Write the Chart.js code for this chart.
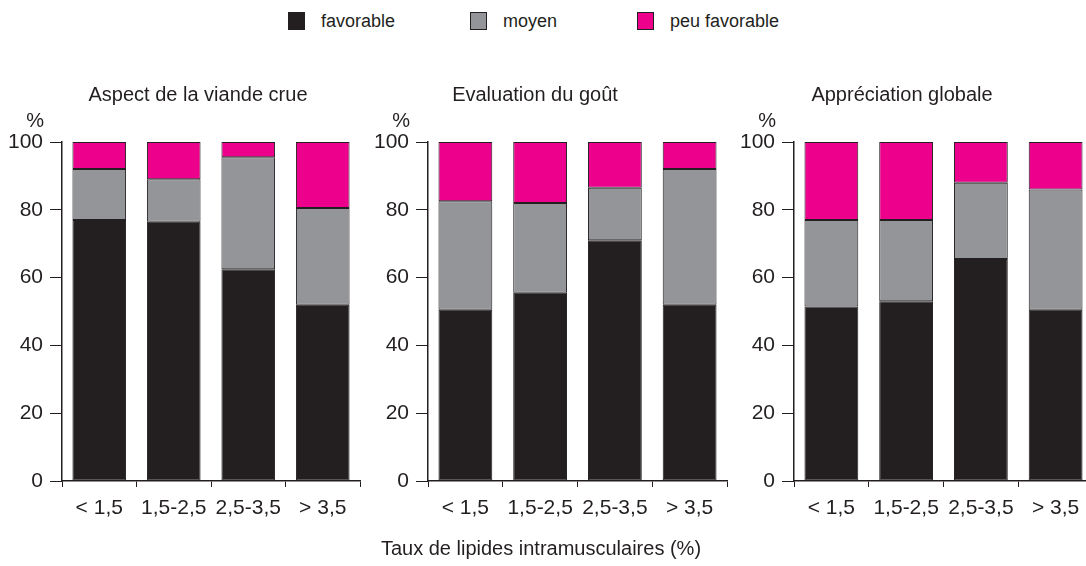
<!DOCTYPE html>
<html>
<head>
<meta charset="utf-8">
<script src="https://cdn.jsdelivr.net/npm/chart.js@4"></script>
<style>
  html, body { margin: 0; padding: 0; background: #fff; }
  body { width: 1086px; height: 566px; overflow: hidden; position: relative;
         font-family: "Liberation Sans", Arial, sans-serif; color: #231f20; }
  canvas { position: absolute; top: 0; }
  .leg { position: absolute; top: 12px; font-size: 18px; line-height: 19px; }
  .leg span { position: absolute; top: 0; width: 17px; height: 18px; border: 1px solid #231f20; box-sizing: border-box; }
  .leg b { font-weight: normal; position: absolute; top: 0; white-space: nowrap; }
  #xtitle { position: absolute; left: 0; width: 1082px; top: 537px; text-align: center; font-size: 20px; }
</style>
</head>
<body>
<div class="leg" style="left:288px"><span style="background:#231f20"></span><b style="left:33px">favorable</b></div>
<div class="leg" style="left:470px"><span style="background:#939598"></span><b style="left:33px">moyen</b></div>
<div class="leg" style="left:637px"><span style="background:#ec008c"></span><b style="left:33px">peu favorable</b></div>

<canvas id="c1" width="396" height="566" style="left:0px"></canvas>
<canvas id="c2" width="390" height="566" style="left:340px"></canvas>
<canvas id="c3" width="392" height="566" style="left:706px"></canvas>

<div id="xtitle">Taux de lipides intramusculaires (%)</div>

<script>
// classes de lipides intramusculaires
const categories = ['< 1,5', '1,5-2,5', '2,5-3,5', '> 3,5'];
const seriesNames = ['favorable', 'moyen', 'peu favorable'];
const yTicks = [0, 20, 40, 60, 80, 100];

// Aspect de la viande crue
const aspectFavorable = [77, 76.5, 62.5, 52];
const aspectMoyen = [15, 12.5, 33, 28.5];
const aspectPeu = [8, 11, 4.5, 19.5];

// Evaluation du goût
const goutFavorable = [50.5, 55.5, 71, 52];
const goutMoyen = [32, 26.5, 15.5, 40];
const goutPeu = [17.5, 18, 13.5, 8];

// Appréciation globale
const globaleFavorable = [51.5, 53, 65.5, 50.5];
const globaleMoyen = [25.5, 24, 22.5, 35.5];
const globalePeu = [23, 23, 12, 14];

const colors = ['#231f20', '#939598', '#ec008c'];
const ink = '#231f20';
const font = '"Liberation Sans", Arial, sans-serif';

// dessine le "%" au-dessus de l'axe vertical
const percentPlugin = {
    id: 'percent',
    afterDraw(chart) {
        const ctx = chart.ctx;
        ctx.save();
        ctx.font = '20px ' + font;
        ctx.fillStyle = ink;
        ctx.textAlign = 'right';
        ctx.textBaseline = 'middle';
        ctx.fillText('%', chart.chartArea.left - 18, chart.chartArea.top - 21);
        ctx.restore();
    }
};

function makeChart(id, title, values, yWidth, rightSpace) {
    const ctx = document.getElementById(id).getContext('2d');
    return new Chart(ctx, {
        type: 'bar',
        data: {
            labels: categories,
            datasets: values.map((v, i) => ({
                label: seriesNames[i],
                data: v,
                backgroundColor: colors[i],
                borderColor: ink,
                borderWidth: 1,
                borderSkipped: false,
                barPercentage: 0.72,
                categoryPercentage: 1
            }))
        },
        options: {
            responsive: false,
            animation: false,
            devicePixelRatio: 1,
            layout: { padding: { top: 83, left: 0, right: 0, bottom: 45 } },
            plugins: {
                legend: { display: false },
                tooltip: { enabled: false },
                title: {
                    display: true,
                    text: title,
                    color: ink,
                    font: { family: font, size: 20, weight: 'normal' },
                    padding: { top: 0, bottom: 35 }
                }
            },
            scales: {
                x: {
                    stacked: true,
                    grid: { display: true, drawOnChartArea: false, drawTicks: true, tickLength: 6, color: ink, offset: true },
                    border: { display: true, color: ink, width: 1.5 },
                    ticks: { color: ink, font: { family: font, size: 21 }, padding: 9, maxRotation: 0, autoSkip: false },
                    afterFit(scale) { scale.height = 40; }
                },
                y: {
                    stacked: true,
                    min: 0,
                    max: 100,
                    afterBuildTicks(scale) { scale.ticks = yTicks.map(v => ({ value: v })); },
                    grid: { display: true, drawOnChartArea: false, drawTicks: true, tickLength: 12, color: ink },
                    border: { display: true, color: ink, width: 1.5 },
                    ticks: { color: ink, font: { family: font, size: 21 }, padding: 7 },
                    afterFit(scale) { scale.width = yWidth; }
                },
                // axe vide à droite, pour garder le titre centré sur le canvas
                yRight: {
                    position: 'right',
                    display: true,
                    grid: { display: false },
                    border: { display: false },
                    ticks: { display: false },
                    afterFit(scale) { scale.width = rightSpace; }
                }
            }
        },
        plugins: [percentPlugin]
    });
}

makeChart('c1', 'Aspect de la viande crue', [aspectFavorable, aspectMoyen, aspectPeu], 62, 36);
makeChart('c2', 'Evaluation du goût', [goutFavorable, goutMoyen, goutPeu], 88, 3);
makeChart('c3', 'Appréciation globale', [globaleFavorable, globaleMoyen, globalePeu], 88, 5);
</script>
</body>
</html>
